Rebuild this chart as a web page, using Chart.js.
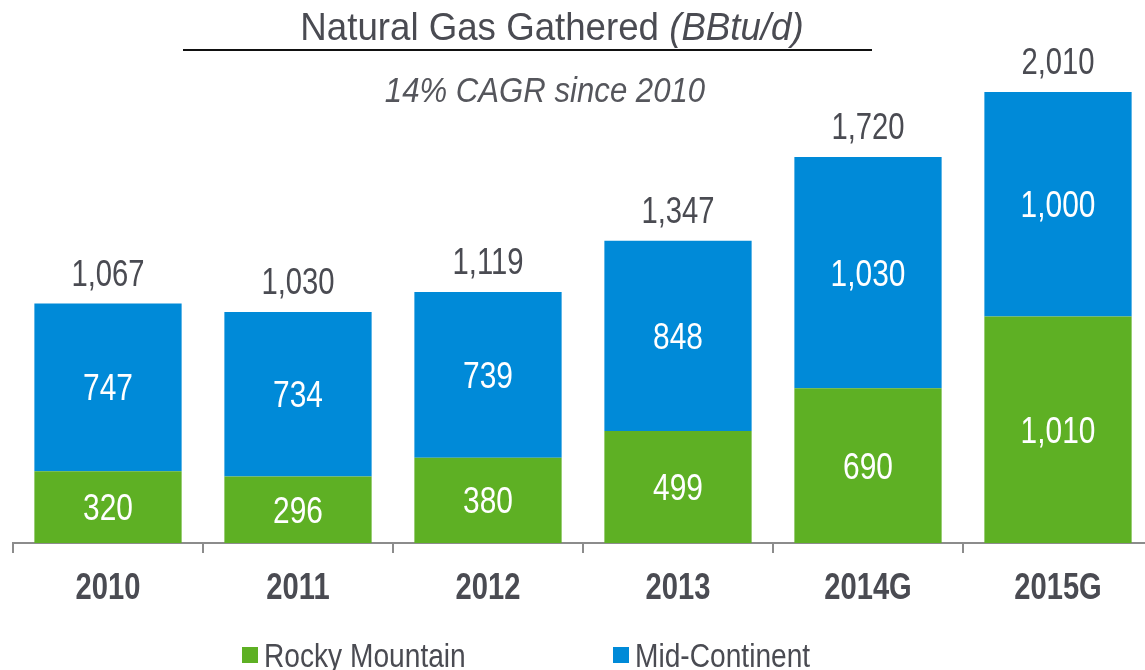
<!DOCTYPE html>
<html>
<head>
<meta charset="utf-8">
<script src="https://cdn.jsdelivr.net/npm/chart.js@4.4.1/dist/chart.umd.min.js"></script>
<style>
  html, body { margin: 0; padding: 0; background: #fff; overflow: hidden; }
  #wrap { width: 1160px; height: 670px; }
</style>
</head>
<body>
<div id="wrap"><canvas id="chart0" width="1160" height="670"></canvas></div>
<script>
const years = ["2010", "2011", "2012", "2013", "2014G", "2015G"];
const rockyMountain = [320, 296, 380, 499, 690, 1010];
const midContinent = [747, 734, 739, 848, 1030, 1000];
const totals = [1067, 1030, 1119, 1347, 1720, 2010];

const FONT = "'Liberation Sans', Arial, sans-serif";
const textGray = "#4a4b52";

function fmt(v) {
    return v.toLocaleString("en-US");
}

// draws condensed text by squeezing a normal face horizontally
function narrowText(ctx, str, x, y, size, k, style, align) {
    ctx.save();
    ctx.font = (style ? style + " " : "") + size + "px " + FONT;
    ctx.translate(x, y);
    ctx.scale(k, 1);
    ctx.textAlign = align || "center";
    ctx.textBaseline = "alphabetic";
    ctx.fillText(str, 0, 0);
    ctx.restore();
}

// titles, value labels, axis labels and legend
const decorations = {
    id: "decorations",
    afterDatasetsDraw(chart) {
        const ctx = chart.ctx;
        ctx.save();

        // segment values
        ctx.fillStyle = "#ffffff";
        chart.data.datasets.forEach((ds, i) => {
            chart.getDatasetMeta(i).data.forEach((bar, j) => {
                const mid = (bar.y + bar.base) / 2;
                narrowText(ctx, fmt(ds.data[j]), bar.x, mid + 13, 36, 0.83);
            });
        });

        // totals on top
        ctx.fillStyle = textGray;
        chart.getDatasetMeta(1).data.forEach((bar, j) => {
            narrowText(ctx, fmt(totals[j]), bar.x, bar.y - 18, 37, 0.79);
        });

        // category labels
        const xs = chart.scales.x;
        years.forEach((yr, j) => {
            narrowText(ctx, yr, xs.getPixelForValue(j), 599, 36, 0.81, "bold");
        });

        // title
        const t1 = "Natural Gas Gathered ";
        const t2 = "(BBtu/d)";
        const k = 0.94;
        ctx.font = "39px " + FONT;
        const w1 = ctx.measureText(t1).width * k;
        ctx.font = "italic 39px " + FONT;
        const w2 = ctx.measureText(t2).width * k;
        const x0 = 552 - (w1 + w2) / 2;
        narrowText(ctx, t1, x0, 40, 39, k, "", "left");
        narrowText(ctx, t2, x0 + w1, 40, 39, k, "italic", "left");

        ctx.strokeStyle = "#111";
        ctx.lineWidth = 2;
        ctx.beginPath();
        ctx.moveTo(183, 50);
        ctx.lineTo(872, 50);
        ctx.stroke();

        ctx.fillStyle = "#55565c";
        narrowText(ctx, "14% CAGR since 2010", 545, 102, 35, 0.89, "italic");

        // legend
        const legendX = [242, 613];
        chart.data.datasets.forEach((ds, i) => {
            ctx.fillStyle = ds.backgroundColor;
            ctx.fillRect(legendX[i], 647, 16, 16);
            ctx.fillStyle = textGray;
            narrowText(ctx, ds.label, legendX[i] + 22, 667, 33.5, 0.84, "", "left");
        });
        ctx.restore();
    }
};

const chart = new Chart(document.getElementById("chart0"), {
    type: "bar",
    data: {
        labels: years,
        datasets: [
            {
                label: "Rocky Mountain",
                data: rockyMountain,
                backgroundColor: "#5eb024",
                categoryPercentage: 1.0,
                barPercentage: 0.775,
            },
            {
                label: "Mid-Continent",
                data: midContinent,
                backgroundColor: "#008ad8",
                categoryPercentage: 1.0,
                barPercentage: 0.775,
            },
        ],
    },
    options: {
        responsive: false,
        animation: false,
        layout: { padding: { top: 27, left: 13, right: 7, bottom: 0 } },
        scales: {
            x: {
                stacked: true,
                grid: {
                    display: true,
                    drawOnChartArea: false,
                    offset: true,
                    color: "#8c8c8c",
                    lineWidth: 2,
                    tickLength: 10,
                },
                border: { display: true, color: "#8c8c8c", width: 2 },
                ticks: { display: false },
                afterFit(scale) { scale.height = 127; },
            },
            y: {
                stacked: true,
                display: false,
                min: 0,
                max: 2300,
            },
        },
        plugins: {
            legend: { display: false },
            tooltip: { enabled: false },
        },
    },
    plugins: [decorations],
});
</script>
</body>
</html>
